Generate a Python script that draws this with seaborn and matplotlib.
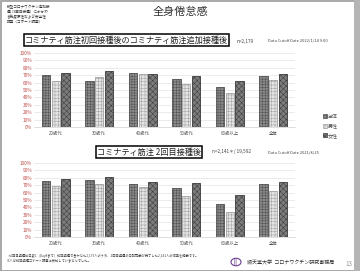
import numpy as np
import pandas as pd
import matplotlib
matplotlib.use("Agg")
import matplotlib.pyplot as plt
import seaborn as sns
from matplotlib.patches import Rectangle, Patch, Circle

sns.set_theme(style="white")
plt.rcParams['font.family'] = ['Noto Sans CJK JP', 'DejaVu Sans']

categories = ["20歳代", "30歳代", "40歳代", "50歳代", "60歳以上", "全体"]
groups = ["全体", "男性", "女性"]
top_all = [70, 62, 72.5, 65, 53.5, 68.5]
top_male = [62, 67, 71, 57.5, 46, 63]
top_female = [72.5, 75.5, 71, 69, 62, 71]
bot_all = [76, 77, 72, 66.5, 44, 71.5]
bot_male = [68.5, 71, 67, 56, 34, 62.5]
bot_female = [78, 81, 74, 72.5, 57, 75]
yticks = [0, 10, 20, 30, 40, 50, 60, 70, 80, 90, 100]

face = {"全体": "#8a8a8a", "男性": "#e4e4e4", "女性": "#7c7c7c"}
hatch = {"全体": "++++++", "男性": "+++++", "女性": "xxxxxx"}
hcol = {"全体": "#505050", "男性": "#a0a0a0", "女性": "#3a3a3a"}

W, H = 360, 271
fig = plt.figure(figsize=(W / 100, H / 100), dpi=100)
fig.patch.set_facecolor("white")

def frac(x0, y0_top, x1, y1_bottom):
    return [x0 / W, 1 - y1_bottom / H, (x1 - x0) / W, (y1_bottom - y0_top) / H]

def draw(ax, a, m, f):
    df = pd.DataFrame({
        "cat": categories * 3,
        "grp": [g for g in groups for _ in categories],
        "val": a + m + f,
    })
    sns.barplot(data=df, x="cat", y="val", hue="grp", hue_order=groups,
                order=categories, palette=face, width=0.66, gap=0.12,
                legend=False, ax=ax, errorbar=None, saturation=1)
    for i, p in enumerate(ax.patches):
        g = groups[i // len(categories)]
        p.set_hatch(hatch[g])
        p.set_edgecolor(hcol[g])
        p.set_linewidth(0.6)
    ax.set_ylim(0, 100)
    ax.set_xlim(-0.5, len(categories) - 0.5)
    ax.set_yticks(yticks)
    ax.set_yticklabels([f"{t}%" for t in yticks], color="#c0504d", fontsize=3.4)
    ax.tick_params(axis="x", labelsize=3.2, colors="#555555", length=0, pad=3)
    ax.tick_params(axis="y", length=0, pad=1.5)
    ax.set_xlabel("")
    ax.set_ylabel("")
    ax.grid(axis="y", color="#e3e3e3", linewidth=0.5)
    ax.set_axisbelow(True)
    for s in ["top", "right", "left"]:
        ax.spines[s].set_visible(False)
    ax.spines["bottom"].set_color("#d0d0d0")
    ax.spines["bottom"].set_linewidth(0.5)
    ax.set_facecolor("white")

plt.rcParams['hatch.linewidth'] = 0.35
ax1 = fig.add_axes(frac(34, 53, 295, 127))
draw(ax1, top_all, top_male, top_female)
ax2 = fig.add_axes(frac(34, 163, 295, 237))
draw(ax2, bot_all, bot_male, bot_female)

# Frame
fig.add_artist(Rectangle((0.5 / W, 0.5 / H), (W - 1) / W, (H - 1) / H, transform=fig.transFigure,
                         fill=False, edgecolor="#9a9a9a", linewidth=1.2))
fig.add_artist(Rectangle((354 / W, 0), 6 / W, 1, transform=fig.transFigure,
                         facecolor="#b5b5b5", edgecolor="none"))

# Title and header
fig.text(180 / W, 1 - 12 / H, "全身倦怠感", ha="center", va="center", fontsize=8, color="#333333")
fig.text(7 / W, 1 - 5 / H,
         "新型コロナワクチン追加接\n種（3回目接種）にかかわ\nる免疫原性および安全性\n調査（コホート調査）",
         ha="left", va="top", fontsize=2.6, color="#333333", linespacing=1.2)

box = dict(boxstyle="square,pad=0.15", facecolor="white", edgecolor="black", linewidth=1.1)
fig.text(25 / W, 1 - 40 / H, "コミナティ筋注初回接種後のコミナティ筋注追加接種後",
         ha="left", va="center", fontsize=5.9, color="#222222", bbox=box)
fig.text(237 / W, 1 - 41 / H, "n=2,179", ha="left", va="center", fontsize=3.4, color="#444444")
fig.text(268 / W, 1 - 41 / H, "Data Cutoff Date 2022/1/14 9:00", ha="left", va="center",
         fontsize=2.9, color="#444444")

fig.text(97 / W, 1 - 152 / H, "コミナティ筋注 2回目接種後",
         ha="left", va="center", fontsize=5.9, color="#222222", bbox=box)
fig.text(212 / W, 1 - 152 / H, "n=2,141＊/ 19,592", ha="left", va="center", fontsize=3.4, color="#444444")
fig.text(268 / W, 1 - 152 / H, "Data Cutoff Date 2021/8/25", ha="left", va="center",
         fontsize=2.9, color="#444444")

# Legend
handles = [Patch(facecolor=face[g], hatch=hatch[g], edgecolor=hcol[g], linewidth=0.5, label=g)
           for g in groups]
fig.legend(handles=handles, loc="center left", bbox_to_anchor=(318 / W, 1 - 126 / H),
           frameon=False, fontsize=3.6, handlelength=0.8, handleheight=0.8,
           handletextpad=0.3, labelspacing=0.9, labelcolor="#555555")

# Footnote
fig.text(7 / W, 1 - 258 / H,
         "＊2回目接種後日数1（Day8まで）初回接種で合わせた2,179人のうち、2回目接種の日誌記載が完了した2,141人の結果を掲載です。\n"
         "36人は初回接種コホート調査に参加していませんでした。",
         ha="left", va="center", fontsize=2.3, color="#444444", linespacing=1.3)

# Logo and institution
fig.add_artist(Circle((236 / W, 1 - 262 / H), 5 / W, transform=fig.transFigure,
                      facecolor="white", edgecolor="#6a3d8f", linewidth=0.8))
fig.text(236 / W, 1 - 262 / H, "|||", ha="center", va="center", fontsize=3.5, color="#6a3d8f")
fig.text(247 / W, 1 - 263 / H, "順天堂大学  コロナワクチン研究事務局", ha="left", va="center",
         fontsize=3.6, color="#333333")
fig.text(349 / W, 1 - 264 / H, "13", ha="center", va="center", fontsize=4.5, color="#999999")

fig.savefig("out.png", dpi=100, facecolor="white")
